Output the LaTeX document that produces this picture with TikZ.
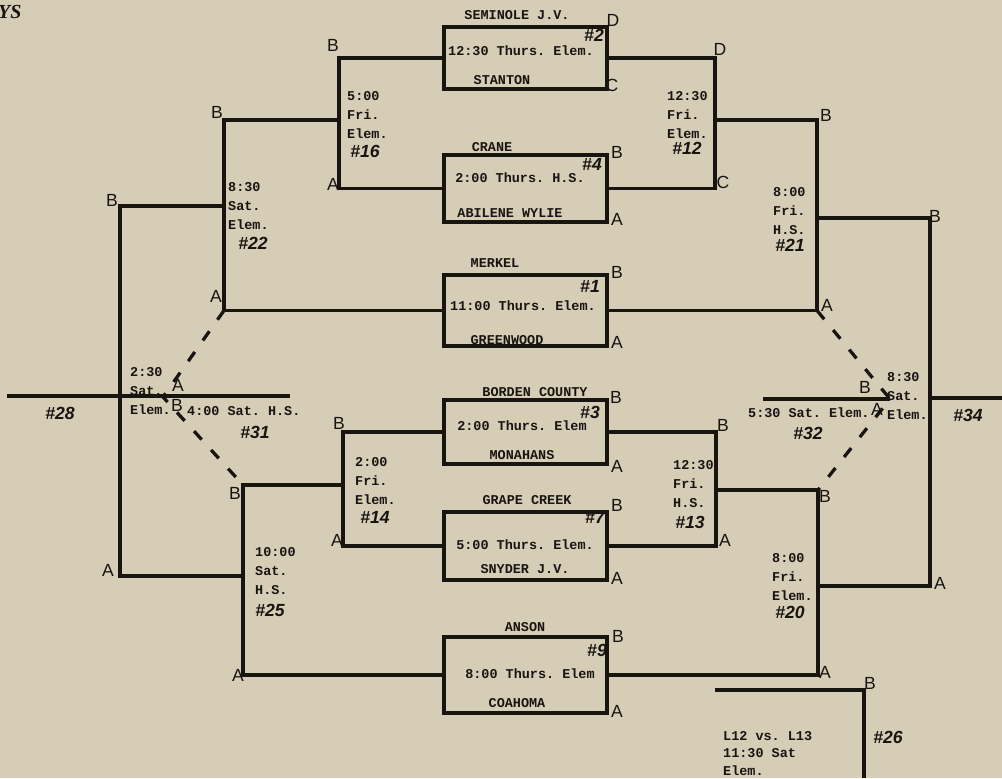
\documentclass[tikz,border=0pt]{standalone}
\usepackage{fontspec}
\setmonofont{Liberation Mono}
\newfontfamily\handfont{Liberation Sans}
\newfontfamily\headfont{Liberation Serif}
\definecolor{paper}{RGB}{214,205,183}
\definecolor{ink}{RGB}{24,20,16}

\begin{document}
\begin{tikzpicture}[x=0.03cm,y=-0.03cm]

  \tikzstyle{wire}=[ink,line width=3.2pt]
  \tikzstyle{dashwire}=[ink,line width=2.8pt,dash pattern=on 0.34cm off 0.42cm]
  \tikzstyle{game}=[draw=ink,line width=3pt,minimum width=4.9cm,inner sep=0pt]
  \tikzstyle{team}=[text=ink,inner sep=0pt,font=\ttfamily\bfseries\fontsize{11.5}{13}\selectfont]
  \tikzstyle{slot}=[team,align=left,anchor=north west,font=\ttfamily\bfseries\fontsize{11.5}{16.2}\selectfont]
  \tikzstyle{hand}=[text=ink,inner sep=0pt,font=\handfont\fontsize{15}{15}\selectfont]
  \tikzstyle{gnum}=[hand,font=\handfont\bfseries\itshape\fontsize{15}{15}\selectfont]

  \useasboundingbox (0,0) rectangle (1002,778);
  \fill[paper] (0,0) rectangle (1002,778);

  \node[anchor=west,text=ink,inner sep=0pt,font=\headfont\bfseries\itshape\fontsize{17}{17}\selectfont] (head) at (-2,12) {YS};

  % first round boxes
  \node[game,minimum height=1.86cm] (g2) at (525.5,58)  {};
  \node[game,minimum height=2.01cm] (g4) at (525.5,188.5) {};
  \node[game,minimum height=2.13cm] (g1) at (525.5,310.5) {};
  \node[game,minimum height=1.92cm] (g3) at (525.5,432) {};
  \node[game,minimum height=2.04cm] (g7) at (525.5,546) {};
  \node[game,minimum height=2.28cm] (g9) at (525.5,675) {};

  \node[team] (t2a) at (517,15)  {SEMINOLE J.V.};
  \node[team] (t2t) at (521,51)  {12:30 Thurs. Elem.};
  \node[team] (t2b) at (502,80)  {STANTON};
  \node[team] (t4a) at (492,147) {CRANE};
  \node[team] (t4t) at (520,178) {2:00 Thurs. H.S.};
  \node[team] (t4b) at (510,213) {ABILENE WYLIE};
  \node[team] (t1a) at (495,263) {MERKEL};
  \node[team] (t1t) at (523,306) {11:00 Thurs. Elem.};
  \node[team] (t1b) at (507,340) {GREENWOOD};
  \node[team] (t3a) at (535,392) {BORDEN COUNTY};
  \node[team] (t3t) at (522,426) {2:00 Thurs. Elem};
  \node[team] (t3b) at (522,455) {MONAHANS};
  \node[team] (t7a) at (527,500) {GRAPE CREEK};
  \node[team] (t7t) at (525,545) {5:00 Thurs. Elem.};
  \node[team] (t7b) at (525,569) {SNYDER J.V.};
  \node[team] (t9a) at (525,627) {ANSON};
  \node[team] (t9t) at (530,674) {8:00 Thurs. Elem};
  \node[team] (t9b) at (517,703) {COAHOMA};

  % left side
  \coordinate (b16) at (339,58);
  \coordinate (m16) at (339,120);
  \coordinate (a16) at (339,188.5);
  \coordinate (b22) at (224,120);
  \coordinate (m22) at (224,206);
  \coordinate (a22) at (224,310.5);
  \coordinate (b28) at (120,206);
  \coordinate (a28) at (120,576);
  \coordinate (w28) at (7,396);
  \coordinate (e31) at (290,396);
  \coordinate (x31) at (163,397);
  \coordinate (b14) at (343,432);
  \coordinate (m14) at (343,485);
  \coordinate (a14) at (343,546);
  \coordinate (b25) at (243,485);
  \coordinate (m25) at (243,576);
  \coordinate (a25) at (243,675);

  % right side
  \coordinate (d12) at (715,58);
  \coordinate (m12) at (715,120);
  \coordinate (c12) at (715,188.5);
  \coordinate (b21) at (817,120);
  \coordinate (m21) at (817,218);
  \coordinate (a21) at (817,310.5);
  \coordinate (b34) at (930,218);
  \coordinate (m34) at (930,398);
  \coordinate (a34) at (930,586);
  \coordinate (e34) at (1002,398);
  \coordinate (w32) at (763,399);
  \coordinate (x32) at (890,399);
  \coordinate (b13) at (716,432);
  \coordinate (m13) at (716,490);
  \coordinate (a13) at (716,546);
  \coordinate (b20) at (818,490);
  \coordinate (m20) at (818,586);
  \coordinate (a20) at (818,675);
  \coordinate (w26) at (715,690);
  \coordinate (b26) at (864,690);
  \coordinate (s26) at (864,778);

  \draw[wire] (g2.west) -- (b16) -- (a16) -- (g4.west);
  \draw[wire] (m16) -- (b22) -- (a22) -- (g1.west);
  \draw[wire] (m22) -- (b28) -- (a28) -- (m25);
  \draw[wire] (w28) -- (e31);
  \draw[wire] (g3.west) -- (b14) -- (a14) -- (g7.west);
  \draw[wire] (m14) -- (b25) -- (a25) -- (g9.west);

  \draw[wire] (g2.east) -- (d12) -- (c12) -- (g4.east);
  \draw[wire] (m12) -- (b21) -- (a21) -- (g1.east);
  \draw[wire] (m21) -- (b34) -- (a34) -- (m20);
  \draw[wire] (m34) -- (e34);
  \draw[wire] (w32) -- (x32);
  \draw[wire] (g3.east) -- (b13) -- (a13) -- (g7.east);
  \draw[wire] (m13) -- (b20) -- (a20) -- (g9.east);
  \draw[wire] (w26) -- (b26) -- (s26);

  \draw[dashwire] (a22) -- (x31) -- (b25);
  \draw[dashwire] (a21) -- (x32) -- (b20);

  % times
  \node[slot] (s16) at (347,91)  {5:00\\Fri.\\Elem.};
  \node[slot] (s22) at (228,182) {8:30\\Sat.\\Elem.};
  \node[slot] (s28) at (130,367) {2:30\\Sat.\\Elem.};
  \node[team,anchor=west] (s31) at (187,411) {4:00 Sat. H.S.};
  \node[slot] (s14) at (355,457) {2:00\\Fri.\\Elem.};
  \node[slot] (s25) at (255,547) {10:00\\Sat.\\H.S.};
  \node[slot] (s12) at (667,91)  {12:30\\Fri.\\Elem.};
  \node[slot] (s21) at (773,187) {8:00\\Fri.\\H.S.};
  \node[slot] (s13) at (673,460) {12:30\\Fri.\\H.S.};
  \node[slot] (s20) at (772,553) {8:00\\Fri.\\Elem.};
  \node[team,anchor=west] (s32) at (748,413) {5:30 Sat. Elem.};
  \node[slot] (s34) at (887,372) {8:30\\Sat.\\Elem.};
  \node[slot,font=\ttfamily\bfseries\fontsize{11.5}{15}\selectfont] (s26) at (723,731) {L12 vs. L13\\11:30 Sat\\Elem.};

  % game numbers
  \node[gnum] (n2)  at (594,35)  {\#2};
  \node[gnum] (n4)  at (592,164) {\#4};
  \node[gnum] (n1)  at (590,286) {\#1};
  \node[gnum] (n3)  at (590,412) {\#3};
  \node[gnum] (n7)  at (595,517) {\#7};
  \node[gnum] (n9)  at (597,650) {\#9};
  \node[gnum] (n16) at (365,151) {\#16};
  \node[gnum] (n22) at (253,243) {\#22};
  \node[gnum] (n28) at (60,413)  {\#28};
  \node[gnum] (n31) at (255,432) {\#31};
  \node[gnum] (n14) at (375,517) {\#14};
  \node[gnum] (n25) at (270,610) {\#25};
  \node[gnum] (n12) at (687,148) {\#12};
  \node[gnum] (n21) at (790,245) {\#21};
  \node[gnum] (n32) at (808,433) {\#32};
  \node[gnum] (n34) at (968,415) {\#34};
  \node[gnum] (n13) at (690,522) {\#13};
  \node[gnum] (n20) at (790,612) {\#20};
  \node[gnum] (n26) at (888,737) {\#26};

  % seeds
  \node[hand] (l1)  at (333,45)  {B};
  \node[hand] (l2)  at (333,184) {A};
  \node[hand] (l3)  at (217,112) {B};
  \node[hand] (l4)  at (216,296) {A};
  \node[hand] (l5)  at (112,200) {B};
  \node[hand] (l6)  at (108,570) {A};
  \node[hand] (l7)  at (178,385) {A};
  \node[hand] (l8)  at (177,405) {B};
  \node[hand] (l9)  at (235,493) {B};
  \node[hand] (l10) at (238,675) {A};
  \node[hand] (l11) at (339,423) {B};
  \node[hand] (l12) at (337,540) {A};
  \node[hand] (l13) at (613,20)  {D};
  \node[hand] (l14) at (612,85)  {C};
  \node[hand] (l15) at (617,152) {B};
  \node[hand] (l16) at (617,219) {A};
  \node[hand] (l17) at (617,272) {B};
  \node[hand] (l18) at (617,342) {A};
  \node[hand] (l19) at (616,397) {B};
  \node[hand] (l20) at (617,466) {A};
  \node[hand] (l21) at (617,505) {B};
  \node[hand] (l22) at (617,578) {A};
  \node[hand] (l23) at (618,636) {B};
  \node[hand] (l24) at (617,711) {A};
  \node[hand] (l25) at (720,49)  {D};
  \node[hand] (l26) at (723,182) {C};
  \node[hand] (l27) at (826,115) {B};
  \node[hand] (l28) at (827,305) {A};
  \node[hand] (l29) at (935,216) {B};
  \node[hand] (l30) at (865,387) {B};
  \node[hand] (l31) at (877,409) {A};
  \node[hand] (l32) at (723,425) {B};
  \node[hand] (l33) at (725,540) {A};
  \node[hand] (l34) at (825,496) {B};
  \node[hand] (l35) at (940,583) {A};
  \node[hand] (l36) at (825,672) {A};
  \node[hand] (l37) at (870,683) {B};

\end{tikzpicture}
\end{document}
